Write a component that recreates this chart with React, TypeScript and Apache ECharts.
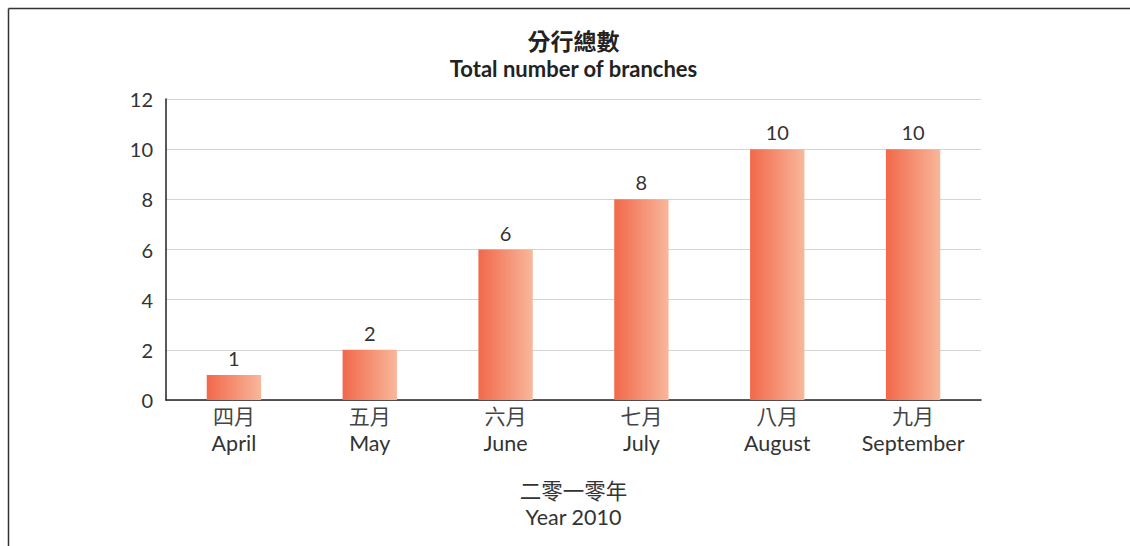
import React, { useEffect, useRef } from "react";
import * as echarts from "echarts";

const monthsZh = ["四月", "五月", "六月", "七月", "八月", "九月"];
const monthsEn = ["April", "May", "June", "July", "August", "September"];
const branches = [1, 2, 6, 8, 10, 10];
const titleZh = "分行總數";
const titleEn = "Total number of branches";
const axisNameZh = "二零一零年";
const axisNameEn = "Year 2010";

const FONT = "Lato, 'Noto Sans CJK TC', sans-serif";
const CJK = "'Noto Sans CJK TC', sans-serif";

export default function App() {
  const ref = useRef<HTMLDivElement>(null);
  useEffect(() => {
    if (!ref.current) return;
    const chart = echarts.init(ref.current, undefined, { renderer: "svg" });
    chart.setOption({
      animation: false,
      backgroundColor: "#ffffff",
      textStyle: { fontFamily: FONT },
      title: {
        text: "{zh|" + titleZh + "}\n{en|" + titleEn + "}",
        left: 573.5,
        top: 26,
        padding: 0,
        textAlign: "center",
        textStyle: {
          rich: {
            zh: { fontFamily: CJK, fontWeight: "bold", fontSize: 23, lineHeight: 28, color: "#222" },
            en: { fontFamily: FONT, fontWeight: "bold", fontSize: 22, lineHeight: 28, color: "#222" },
          },
        },
      },
      grid: { left: 166, right: 149, top: 99, bottom: 146, containLabel: false },
      xAxis: {
        type: "category",
        data: monthsEn,
        name: "{zh|" + axisNameZh + "}\n{en|" + axisNameEn + "}",
        nameLocation: "middle",
        nameGap: 76,
        nameTextStyle: {
          verticalAlign: "top",
          rich: {
            zh: { fontFamily: CJK, fontSize: 21.5, lineHeight: 27, color: "#333" },
            en: { fontFamily: FONT, fontSize: 21.5, lineHeight: 27, color: "#333" },
          },
        },
        axisLine: { lineStyle: { color: "#222", width: 1.5 } },
        axisTick: { show: false },
        axisLabel: {
          margin: 1,
          interval: 0,
          formatter: (v: string, i: number) => "{zh|" + monthsZh[i] + "}\n{en|" + v + "}",
          rich: {
            zh: { fontFamily: CJK, fontSize: 21, lineHeight: 28, color: "#444" },
            en: { fontFamily: FONT, fontSize: 21.5, lineHeight: 28, color: "#333" },
          },
        },
      },
      yAxis: {
        type: "value",
        min: 0,
        max: 12,
        interval: 2,
        axisLine: { show: true, lineStyle: { color: "#222", width: 1.5 } },
        axisTick: { show: false },
        axisLabel: { fontFamily: FONT, fontSize: 20, color: "#333", margin: 13 },
        splitLine: { lineStyle: { color: "#d4d4d4", width: 1 } },
      },
      series: [
        {
          type: "bar",
          data: branches,
          barWidth: "40%",
          itemStyle: {
            color: new echarts.graphic.LinearGradient(0, 0, 1, 0, [
              { offset: 0, color: "#f2684a" },
              { offset: 1, color: "#f8b79b" },
            ]),
          },
          label: {
            show: true,
            position: "top",
            distance: 7,
            fontFamily: FONT,
            fontSize: 20,
            color: "#333",
          },
        },
      ],
      graphic: [
        {
          type: "line",
          shape: { x1: 8.5, y1: 8.5, x2: 1130, y2: 8.5 },
          style: { stroke: "#333", lineWidth: 1.5 },
          silent: true,
        },
        {
          type: "line",
          shape: { x1: 8.5, y1: 8.5, x2: 8.5, y2: 546 },
          style: { stroke: "#333", lineWidth: 1.5 },
          silent: true,
        },
      ],
    });
    return () => chart.dispose();
  }, []);
  return (
    <div
      ref={ref}
      style={{ position: "fixed", left: 0, top: 0, width: 1130, height: 546, background: "#fff" }}
    />
  );
}
